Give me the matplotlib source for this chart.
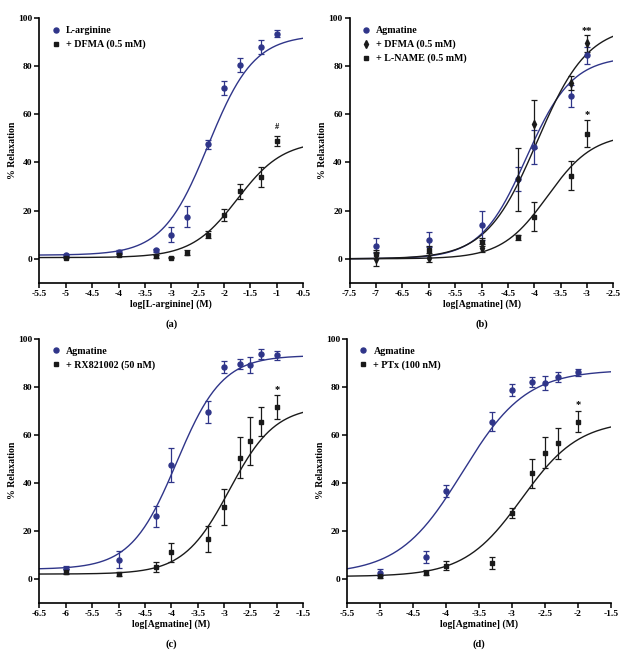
import numpy as np
import matplotlib
matplotlib.use('Agg')
import matplotlib.pyplot as plt
from matplotlib.lines import Line2D

plt.rcParams['font.family'] = ['Liberation Serif', 'DejaVu Serif']
plt.rcParams['font.weight'] = 'bold'

BLUE = '#2f3589'
BLACK = '#1a1a1a'

# (a) L-arginine
a_x = [-5, -4, -3.3, -3, -2.7, -2.3, -2, -1.7, -1.3, -1]
a_arg = [1.5, 3, 3.5, 10, 17.5, 47.5, 71, 80.5, 88, 93.5]
a_arg_err = [0.5, 0.5, 0.5, 3, 4.5, 2, 3, 3, 3, 1.5]
a_dfma = [0.5, 1.5, 1, 0.5, 2.5, 10, 18, 28, 34, 49]
a_dfma_err = [0.3, 0.5, 0.5, 0.3, 1, 1.5, 2.5, 3, 4, 2]

# (b) agmatine with DFMA / L-NAME
b_x = [-7, -6, -5, -4.3, -4, -3.3, -3]
b_agm = [5.5, 8, 14, 33, 46.5, 67.5, 84.5]
b_agm_err = [3, 3, 6, 5, 7, 4.5, 3.5]
b_dfma = [0, 0.5, 4.5, 33, 56, 73, 89.5]
b_dfma_err = [3, 2, 1.5, 13, 10, 3, 3.5]
b_lname = [2, 3.5, 7, 9, 17.5, 34.5, 52]
b_lname_err = [1.5, 2, 1.5, 1, 6, 6, 5.5]

# (c) agmatine with RX821002
c_x = [-6, -5, -4.3, -4, -3.3, -3, -2.7, -2.5, -2.3, -2]
c_agm = [4, 8, 26, 47.5, 69.5, 88, 89.5, 89, 93.5, 93]
c_agm_err = [1.5, 3.5, 4.5, 7, 4.5, 2.5, 2, 3.5, 2, 2]
c_rx = [3, 2, 5, 11, 16.5, 30, 50.5, 57.5, 65.5, 71.5]
c_rx_err = [1, 0.8, 2, 4, 5.5, 7.5, 8.5, 10, 6, 5]

# (d) agmatine with PTx
d_x = [-5, -4.3, -4, -3.3, -3, -2.7, -2.5, -2.3, -2]
d_agm = [2.5, 9, 36.5, 65.5, 78.5, 82, 81.5, 84, 86]
d_agm_err = [1.5, 2.5, 2.5, 4, 2.5, 2, 3, 2, 1.5]
d_ptx = [1, 2.5, 5.5, 6.5, 27.5, 44, 52.5, 56.5, 65.5]
d_ptx_err = [0.8, 1, 2, 2.5, 2, 6, 6.5, 6.5, 4.5]

# fitted sigmoid params: bottom, top, logEC50, hill
fit_a = {'arg': (1.5, 93, -2.3, 1.0), 'dfma': (0.5, 49, -1.75, 1.0)}
fit_b = {'agm': (0, 84, -4.15, 1.0), 'dfma': (0, 97, -3.95, 0.9), 'lname': (0, 52, -3.75, 1.0)}
fit_c = {'agm': (4, 93, -3.9, 1.0), 'rx': (2, 72, -2.9, 1.0)}
fit_d = {'agm': (2, 87, -3.75, 0.9), 'ptx': (1, 66, -2.85, 1.0)}


def hill(x, p):
    bottom, top, ec50, h = p
    return bottom + (top - bottom) / (1 + 10 ** ((ec50 - x) * h))


def style_ax(ax, xlim, xticks, xlabel):
    ax.set_xlim(xlim)
    ax.set_ylim(-10, 100)
    ax.set_xticks(xticks)
    ax.set_xticklabels([('%g' % t) for t in xticks])
    ax.set_yticks([0, 20, 40, 60, 80, 100])
    for s in ['top', 'right']:
        ax.spines[s].set_visible(False)
    for s in ['left', 'bottom']:
        ax.spines[s].set_linewidth(1.2)
    ax.tick_params(direction='out', length=3.5, width=1.1, labelsize=6.8, pad=1.5)
    ax.set_xlabel(xlabel, fontsize=7, fontweight='bold', labelpad=1)
    ax.set_ylabel('% Relaxation', fontsize=7, fontweight='bold')
    ax.yaxis.set_label_coords(-0.085, 0.5)


def series(ax, x, y, err, color, marker, ms):
    ax.errorbar(x, y, yerr=err, fmt=marker, color=color, ms=ms, elinewidth=0.9,
                capsize=2.2, capthick=0.9, zorder=3)


def curve(ax, xlim, p, color):
    xs = np.linspace(xlim[0], xlim[1], 300)
    ax.plot(xs, hill(xs, p), color=color, lw=1.0, zorder=2)


def legend(ax, entries):
    handles = [Line2D([], [], ls='none', marker=m, color=c, ms=ms) for c, m, ms, _ in entries]
    labels = [e[3] for e in entries]
    ax.legend(handles, labels, loc='upper left', bbox_to_anchor=(0.02, 0.995), frameon=False,
              fontsize=7.2, handlelength=0.8, handletextpad=0.6, labelspacing=0.45,
              borderaxespad=0.3)


fig = plt.figure(figsize=(6.37, 6.64), dpi=100)
ax_a = fig.add_axes([0.062, 0.574, 0.414, 0.399])
ax_b = fig.add_axes([0.549, 0.574, 0.414, 0.399])
ax_c = fig.add_axes([0.062, 0.092, 0.414, 0.398])
ax_d = fig.add_axes([0.545, 0.092, 0.414, 0.398])

# (a)
xl = (-5.5, -0.5)
curve(ax_a, xl, fit_a['arg'], BLUE)
curve(ax_a, xl, fit_a['dfma'], BLACK)
series(ax_a, a_x, a_arg, a_arg_err, BLUE, 'o', 3.6)
series(ax_a, a_x, a_dfma, a_dfma_err, BLACK, 's', 3.2)
ax_a.text(-1, a_dfma[-1] + a_dfma_err[-1] + 2, '#', ha='center', va='bottom', fontsize=6)
style_ax(ax_a, xl, np.arange(-5.5, -0.4, 0.5), 'log[L-arginine] (M)')
legend(ax_a, [(BLUE, 'o', 3.6, 'L-arginine'), (BLACK, 's', 3.2, '+ DFMA (0.5 mM)')])

# (b)
xl = (-7.5, -2.5)
curve(ax_b, xl, fit_b['agm'], BLUE)
curve(ax_b, xl, fit_b['dfma'], BLACK)
curve(ax_b, xl, fit_b['lname'], BLACK)
series(ax_b, b_x, b_agm, b_agm_err, BLUE, 'o', 3.6)
series(ax_b, b_x, b_dfma, b_dfma_err, BLACK, 'd', 3.6)
series(ax_b, b_x, b_lname, b_lname_err, BLACK, 's', 3.2)
ax_b.text(-3, 93, '**', ha='center', va='bottom', fontsize=7.5)
ax_b.text(-3, 58, '*', ha='center', va='bottom', fontsize=7.5)
style_ax(ax_b, xl, np.arange(-7.5, -2.4, 0.5), 'log[Agmatine] (M)')
legend(ax_b, [(BLUE, 'o', 3.6, 'Agmatine'), (BLACK, 'd', 3.6, '+ DFMA (0.5 mM)'),
              (BLACK, 's', 3.2, '+ L-NAME (0.5 mM)')])

# (c)
xl = (-6.5, -1.5)
curve(ax_c, xl, fit_c['agm'], BLUE)
curve(ax_c, xl, fit_c['rx'], BLACK)
series(ax_c, c_x, c_agm, c_agm_err, BLUE, 'o', 3.6)
series(ax_c, c_x, c_rx, c_rx_err, BLACK, 's', 3.2)
ax_c.text(-2, 77, '*', ha='center', va='bottom', fontsize=7.5)
style_ax(ax_c, xl, np.arange(-6.5, -1.4, 0.5), 'log[Agmatine] (M)')
legend(ax_c, [(BLUE, 'o', 3.6, 'Agmatine'), (BLACK, 's', 3.2, '+ RX821002 (50 nM)')])

# (d)
xl = (-5.5, -1.5)
curve(ax_d, xl, fit_d['agm'], BLUE)
curve(ax_d, xl, fit_d['ptx'], BLACK)
series(ax_d, d_x, d_agm, d_agm_err, BLUE, 'o', 3.6)
series(ax_d, d_x, d_ptx, d_ptx_err, BLACK, 's', 3.2)
ax_d.text(-2, 70.5, '*', ha='center', va='bottom', fontsize=7.5)
style_ax(ax_d, xl, np.arange(-5.5, -1.4, 0.5), 'log[Agmatine] (M)')
legend(ax_d, [(BLUE, 'o', 3.6, 'Agmatine'), (BLACK, 's', 3.2, '+ PTx (100 nM)')])

for ax, lab in [(ax_a, '(a)'), (ax_b, '(b)'), (ax_c, '(c)'), (ax_d, '(d)')]:
    ax.text(0.5, -0.155, lab, transform=ax.transAxes, ha='center', va='center',
            fontsize=7.5, fontweight='bold')

fig.savefig('out.png', dpi=100)
